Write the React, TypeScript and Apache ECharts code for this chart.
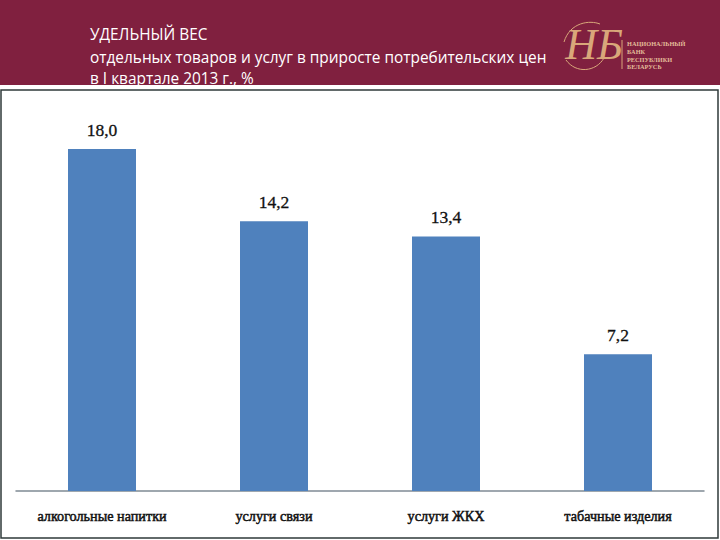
import React, { useRef, useEffect } from 'react';
import * as echarts from 'echarts';

const categories = ['алкогольные напитки', 'услуги связи', 'услуги ЖКХ', 'табачные изделия'];
const shares = [18.0, 14.2, 13.4, 7.2];
const titleLines = [
  'УДЕЛЬНЫЙ ВЕС',
  'отдельных товаров и услуг в приросте потребительских цен',
  'в I квартале 2013 г., %',
];
const bankLines = ['НАЦИОНАЛЬНЫЙ', 'БАНК', 'РЕСПУБЛИКИ', 'БЕЛАРУСЬ'];

const BANNER = '#80203f';
const GOLD = '#d9a77a';
const SERIF = '"Liberation Serif", serif';
const SANS = '"Open Sans", sans-serif';

const App: React.FC = () => {
  const chartRef = useRef<HTMLDivElement>(null);

  useEffect(() => {
    document.body.style.margin = '0';
    if (!chartRef.current) return;
    const chart = echarts.init(chartRef.current, undefined, { renderer: 'svg' });

    const titleY = [34, 57, 78];
    const bankY = [43, 51, 59, 66];

    const option: echarts.EChartsOption = {
      animation: false,
      backgroundColor: '#ffffff',
      grid: { left: 16, right: 16, top: 111, bottom: 49 },
      xAxis: {
        type: 'category',
        data: categories,
        axisTick: { show: false },
        axisLine: { lineStyle: { color: '#7f8a94', width: 1.5 } },
        axisLabel: {
          color: '#111111',
          fontFamily: SERIF,
          fontSize: 14.2,
          textBorderColor: '#111111',
          textBorderWidth: 0.5,
          margin: 18,
          interval: 0,
        },
      },
      yAxis: { type: 'value', min: 0, max: 20, show: false },
      series: [{
        type: 'bar',
        data: shares,
        barWidth: 68,
        itemStyle: { color: '#4f81bd' },
        label: {
          show: true,
          position: 'top',
          distance: 10,
          color: '#111111',
          fontFamily: SERIF,
          fontSize: 17.5,
          textBorderColor: '#111111',
          textBorderWidth: 0.3,
          formatter: (p: any) => Number(p.value).toFixed(1).replace('.', ','),
        },
      }],
      graphic: [
        { type: 'rect', shape: { x: 0, y: 0, width: 720, height: 85 }, style: { fill: BANNER }, z: 1 },
        {
          type: 'rect',
          shape: { x: 1, y: 90, width: 717, height: 448 },
          style: { fill: 'none', stroke: '#2f3a3a', lineWidth: 1.5 },
          z: 1,
        },
        ...titleLines.map((text, i) => ({
          type: 'text' as const,
          x: 90,
          y: titleY[i],
          z: 2,
          style: {
            text,
            fill: '#ffffff',
            font: `15.4px ${SANS}`,
            textVerticalAlign: 'middle',
          },
        })),
        // monogram
        {
          type: 'text',
          x: 594,
          y: 44,
          z: 2,
          style: {
            text: 'НБ',
            fill: GOLD,
            font: `italic 44px ${SERIF}`,
            textAlign: 'center',
            textVerticalAlign: 'middle',
          },
        },
        {
          type: 'bezierCurve',
          z: 2,
          shape: { x1: 564, y1: 42, cpx1: 570, cpy1: 22, cpx2: 590, cpy2: 20, x2: 600, y2: 24 },
          style: { stroke: GOLD, lineWidth: 1, fill: 'none' },
        },
        {
          type: 'bezierCurve',
          z: 2,
          shape: { x1: 566, y1: 60, cpx1: 576, cpy1: 74, cpx2: 596, cpy2: 72, x2: 604, y2: 58 },
          style: { stroke: GOLD, lineWidth: 1, fill: 'none' },
        },
        {
          type: 'line',
          z: 2,
          shape: { x1: 622, y1: 40, x2: 622, y2: 69 },
          style: { stroke: GOLD, lineWidth: 1 },
        },
        ...bankLines.map((text, i) => ({
          type: 'text' as const,
          x: 627,
          y: bankY[i],
          z: 2,
          style: {
            text,
            fill: '#e3bd9a',
            font: `bold 6.3px ${SERIF}`,
            textVerticalAlign: 'middle',
          },
        })),
      ],
    };

    chart.setOption(option);
    return () => chart.dispose();
  }, []);

  return <div ref={chartRef} style={{ width: 720, height: 540 }} />;
};

export default App;
